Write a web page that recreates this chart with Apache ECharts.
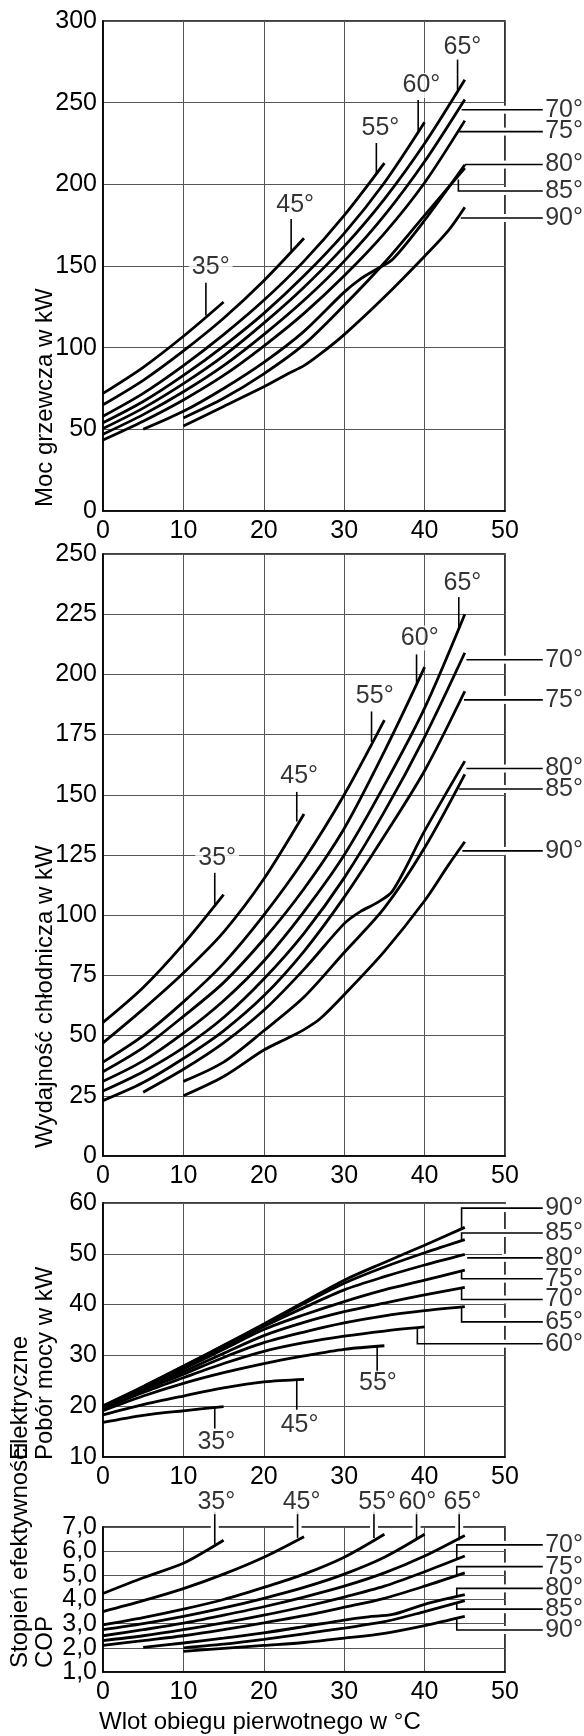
<!DOCTYPE html>
<html><head><meta charset="utf-8">
<script src="https://cdn.jsdelivr.net/npm/echarts@6/dist/echarts.min.js"></script>
<style>html,body{margin:0;padding:0;background:#fff}#c{width:584px;height:1736px}</style>
</head><body><div id="c"></div>
<script>
// ---------- DATA ----------
const tempLabels = ['35°','45°','55°','60°','65°','70°','75°','80°','85°','90°'];

// Chart 1: Moc grzewcza w kW
const heat35 = [[0,72],[5,88],[10,107],[15,128]];
const heat45 = [[0,65],[5,80],[10,98],[15,118],[20,141],[25,167]];
const heat55 = [[0,58],[5,72],[10,89],[15,108],[20,129],[25,153],[30,181],[35,213]];
const heat60 = [[0,54],[5,67],[10,83],[15,101],[20,121],[25,144],[30,170],[35,201],[40,238]];
const heat65 = [[0,50.5],[5,63],[10,78],[15,95],[20,115],[25,137],[30,162],[35,191],[40,225],[45,264]];
const heat70 = [[0,47],[5,59],[10,73],[15,89],[20,108],[25,129],[30,153],[35,181],[40,214],[45,252]];
const heat75 = [[0,43.5],[5,55],[10,68],[15,83],[20,101],[25,121],[30,144],[35,170],[40,201],[45,239]];
const heat80 = [[5,50],[10,61],[15,75],[20,91],[25,110],[30,134],[32,142],[34,148],[36,154],[40,178],[45,212]];
const heat85 = [[10,57],[15,69],[20,84],[25,102],[30,126],[35,152],[40,181],[45,210]];
const heat90 = [[10,52],[15,64],[20,76],[23,84],[25,89],[27,96],[30,108],[35,131],[40,156],[43,172],[45,186]];

// Chart 2: Wydajność chłodnicza w kW
const cool35 = [[0,55.5],[5,70],[10,88],[15,108.5]];
const cool45 = [[0,47],[5,61],[10,76],[15,93],[20,115],[25,142]];
const cool55 = [[0,39],[5,50],[10,64],[15,80],[20,100],[25,123],[30,150],[35,181]];
const cool60 = [[0,35],[5,45],[10,58],[15,72],[20,90],[25,111],[30,136],[35,168],[40,203]];
const cool65 = [[0,31],[5,39.5],[10,51],[15,64.5],[20,81],[25,101.5],[30,125],[35,154],[40,186],[45,225]];
const cool70 = [[0,27],[5,35],[10,45],[15,57.5],[20,73.5],[25,92.5],[30,115.5],[35,143],[40,174],[45,209]];
const cool75 = [[0,23],[5,30.5],[10,40.5],[15,52],[20,66.5],[25,85],[30,107.5],[35,133],[40,160],[45,193]];
const cool80 = [[5,26.5],[10,36],[15,47],[20,60.5],[25,77.5],[30,96.5],[32,101.5],[34,105],[36,110],[40,135],[45,164]];
const cool85 = [[10,31],[15,39],[20,52],[25,66],[30,84.5],[35,103],[40,128],[45,158.5]];
const cool90 = [[10,25],[15,33],[20,44],[23,49],[25,52.5],[27,57],[30,67],[35,85],[40,106],[43,121],[45,130.5]];

// Chart 3: Elektryczne pobór mocy w kW
const pow35 = [[0,16.8],[5,18.2],[10,19.1],[15,19.9]];
const pow45 = [[0,18.3],[5,20.3],[10,22],[15,23.6],[20,24.8],[25,25.3]];
const pow55 = [[0,19.1],[5,22],[10,24.5],[15,26.6],[20,28.4],[25,29.9],[30,31.2],[35,31.9]];
const pow60 = [[0,19.4],[5,22.7],[10,25.6],[15,28.4],[20,30.8],[25,32.5],[30,33.8],[35,34.8],[40,35.6]];
const pow65 = [[0,19.6],[5,23.1],[10,26.3],[15,29.6],[20,32.5],[25,34.6],[30,36.4],[35,37.8],[40,38.8],[45,39.6]];
const pow70 = [[0,19.7],[5,23.3],[10,26.8],[15,30.4],[20,33.9],[25,36.5],[30,38.6],[35,40.3],[40,41.9],[45,43.4]];
const pow75 = [[0,19.8],[5,23.5],[10,27.3],[15,31.2],[20,35.1],[25,38],[30,40.6],[35,42.9],[40,44.8],[45,46.8]];
const pow80 = [[0,19.9],[5,23.7],[10,27.6],[15,31.6],[20,35.7],[25,39.4],[30,42.9],[35,45.5],[40,47.8],[45,49.9]];
const pow85 = [[0,20],[5,23.8],[10,27.8],[15,31.9],[20,36],[25,40.2],[30,44.2],[35,47.4],[40,50.2],[45,52.8]];
const pow90 = [[0,20.1],[5,23.9],[10,27.9],[15,32],[20,36.2],[25,40.5],[30,44.8],[35,48.3],[40,51.7],[45,55.2]];

// Chart 4: COP
const cop35 = [[0,4.25],[5,4.9],[10,5.5],[13,6.05],[15,6.45]];
const cop45 = [[0,3.5],[5,3.95],[10,4.45],[15,5.05],[20,5.75],[25,6.6]];
const cop55 = [[0,2.95],[5,3.25],[10,3.6],[15,4.0],[20,4.5],[25,5.05],[30,5.75],[35,6.7]];
const cop60 = [[0,2.75],[5,3.0],[10,3.3],[15,3.65],[20,4.05],[25,4.5],[30,5.05],[35,5.75],[40,6.7]];
const cop65 = [[0,2.5],[5,2.75],[10,3.02],[15,3.35],[20,3.7],[25,4.1],[30,4.55],[35,5.1],[40,5.8],[45,6.65]];
const cop70 = [[0,2.3],[5,2.5],[10,2.75],[15,3.03],[20,3.35],[25,3.7],[30,4.1],[35,4.55],[40,5.15],[45,5.8]];
const cop75 = [[0,2.1],[5,2.3],[10,2.5],[15,2.75],[20,3.03],[25,3.33],[30,3.68],[35,4.05],[40,4.55],[45,5.1]];
const cop80 = [[5,2.02],[10,2.2],[15,2.4],[20,2.62],[25,2.88],[30,3.15],[33,3.28],[36,3.38],[40,3.8],[45,4.2]];
const cop85 = [[10,2.0],[15,2.15],[20,2.35],[25,2.58],[30,2.82],[35,3.08],[40,3.5],[45,3.95]];
const cop90 = [[10,1.85],[15,1.98],[20,2.1],[25,2.22],[30,2.4],[35,2.6],[40,2.92],[45,3.3]];

// Curve labels: [text, x, y, align] in data units
const heatLabels = [['65°',44.7,284,'center'],['60°',39.6,260.5,'center'],['55°',34.5,234.5,'center'],['45°',23.9,187,'center'],['35°',13.4,149.5,'center'],
  ['70°',55.0,245.7,'left'],['75°',55.0,232.3,'left'],['80°',55.0,212.1,'left'],['85°',55.0,195.9,'left'],['90°',55.0,179.4,'left']];
const heatLeaders = [[[44.1,277],[44.1,257.6]],[[39.2,251.7],[39.2,231.6]],[[34.0,225.3],[34.0,206.3]],[[23.4,178.8],[23.4,158.8]],[[12.8,139.7],[12.8,119.7]],
  [[54.7,245.7],[44.6,245.7]],[[54.7,232.3],[44.3,232.3]],[[54.7,212.1],[45,212.1]],[[54.7,195.9],[44.2,195.9],[44.2,203]],[[54.7,179.4],[44.5,179.4]]];

const coolLabels = [['65°',44.7,238.1,'center'],['60°',39.4,215.1,'center'],['55°',33.8,190.9,'center'],['45°',24.4,157.8,'center'],['35°',14.2,123.9,'center'],
  ['70°',55.0,206.1,'left'],['75°',55.0,189.4,'left'],['80°',55.0,160.9,'left'],['85°',55.0,152.4,'left'],['90°',55.0,126.7,'left']];
const coolLeaders = [[[44.25,232.1],[44.25,219.3]],[[39.0,208.3],[39.0,196.5]],[[33.4,184.6],[33.4,171.9]],[[24.1,151.2],[24.1,138.9]],[[13.9,117.6],[13.9,104.1]],
  [[54.7,206.1],[45.2,206.1]],[[54.7,189.4],[44.9,189.4]],[[54.7,160.9],[45.2,160.9]],[[54.7,152.4],[44.3,152.4]],[[54.7,126.7],[44.7,126.7]]];

const powLabels = [['90°',55.0,59.0,'left'],['85°',55.0,54.1,'left'],['80°',55.0,49.2,'left'],['75°',55.0,45.1,'left'],['70°',55.0,41,'left'],['65°',55.0,36.6,'left'],['60°',55.0,32.3,'left'],
  ['35°',14.1,13.0,'center'],['45°',24.45,16.3,'center'],['55°',34.2,24.5,'center']];
const powLeaders = [[[54.7,59],[44.6,59],[44.6,54.8]],[[54.7,54.1],[44.6,54.1],[44.6,52.6]],[[54.7,49.2],[45.3,49.2]],[[54.7,45.1],[44.6,45.1],[44.6,46.6]],
  [[54.7,41],[44.6,41],[44.6,43.2]],[[54.7,36.6],[44.6,36.6],[44.6,39.5]],[[54.7,32.3],[39.1,32.3],[39.1,35.5]],
  [[13.9,19.7],[13.9,15.6]],[[24.1,25.2],[24.1,19.3]],[[34.1,31.8],[34.1,26.8]]];

const copLabels = [['35°',14.1,8.05,'center'],['45°',24.7,8.05,'center'],['55°',34.1,8.05,'center'],['60°',39.1,8.05,'center'],['65°',44.7,8.05,'center'],
  ['70°',55.0,6.26,'left'],['75°',55.0,5.36,'left'],['80°',55.0,4.46,'left'],['85°',55.0,3.6,'left'],['90°',55.0,2.74,'left']];
const copLeaders = [[[13.9,7.63],[13.9,6.3]],[[24.2,7.63],[24.2,6.55]],[[33.7,7.63],[33.7,6.55]],[[39.0,7.63],[39.0,6.5]],[[44.3,7.63],[44.3,6.45]],
  [[54.7,6.26],[44.0,6.26],[44.0,5.7]],[[54.7,5.36],[44.0,5.36],[44.0,5.0]],[[54.7,4.46],[44.0,4.46],[44.0,4.13]],[[54.7,3.6],[44.0,3.6],[44.0,3.87]],[[54.7,2.74],[44.0,2.74],[44.0,3.24]]];

// ---------- CHART ----------
const FONT = '"Liberation Sans", Arial, Helvetica, sans-serif';
const FS = 25;
const grids = [
  {left:103, top:21, width:402, height:490},
  {left:103, top:554, width:402, height:602},
  {left:103, top:1203, width:402, height:254},
  {left:103, top:1527, width:402, height:145}
];
const copFmt = v=>v.toFixed(1).replace('.',',');
const yCfg = [
  {min:0,max:300,interval:50,fmt:v=>String(v)},
  {min:0,max:250,interval:25,fmt:v=>String(v)},
  {min:10,max:60,interval:10,fmt:v=>String(v)},
  // COP ticks are dense: odd values here, even values on a companion label-only axis
  {min:1,max:7,interval:1,fmt:v=>(Math.round(v)%2===1 ? copFmt(v) : '')}
];
const curveSets = [
  [heat35,heat45,heat55,heat60,heat65,heat70,heat75,heat80,heat85,heat90],
  [cool35,cool45,cool55,cool60,cool65,cool70,cool75,cool80,cool85,cool90],
  [pow35,pow45,pow55,pow60,pow65,pow70,pow75,pow80,pow85,pow90],
  [cop35,cop45,cop55,cop60,cop65,cop70,cop75,cop80,cop85,cop90]
];
const labelSets = [heatLabels,coolLabels,powLabels,copLabels];
const leaderSets = [heatLeaders,coolLeaders,powLeaders,copLeaders];

const series = [];
curveSets.forEach((set,gi)=>{
  set.forEach((d,ci)=>{
    series.push({type:'line', name:tempLabels[ci]+'_'+gi, xAxisIndex:gi, yAxisIndex:gi, data:d, smooth:0.3,
      showSymbol:false, symbol:'none', lineStyle:{color:'#000', width:2.8}, z:3, silent:true});
  });
  series.push({type:'scatter', xAxisIndex:gi, yAxisIndex:gi, symbolSize:0, clip:false, z:70, silent:true,
    data: labelSets[gi].map(l=>({name:l[0], value:[l[1],l[2]],
      label: l[3]==='left' ? {align:'left', padding:0, backgroundColor:'transparent'} : {align:'center'}})),
    label:{show:true, position:'inside', formatter:'{b}', color:'#000', fontSize:FS, fontFamily:FONT,
      verticalAlign:'middle', backgroundColor:'#fff', padding:[0,3,0,3]}});
});

function txt(x,y,t,rot){
  return {type:'text', x:x, y:y, rotation:rot?Math.PI/2:0, z:80,
    style:{text:t, fontSize:24, fontFamily:FONT, fill:'#000', align:'left', verticalAlign:'middle'}};
}

const yAxes = yCfg.map((c,i)=>({type:'value', gridIndex:i, min:c.min, max:c.max, interval:c.interval,
    axisLine:{show:true, lineStyle:{color:'#000', width:1.6}}, axisTick:{show:false},
    axisLabel:{color:'#000', fontSize:FS, fontFamily:FONT, margin:6, formatter:c.fmt, showMaxLabel:true, showMinLabel:true},
    splitLine:{show:true, lineStyle:{color:'#555', width:1}}}));
yAxes.push({type:'value', gridIndex:3, min:1, max:7, interval:1, position:'left',
    axisLine:{show:false}, axisTick:{show:false}, splitLine:{show:false},
    axisLabel:{color:'#000', fontSize:FS, fontFamily:FONT, margin:6,
      formatter:v=>(Math.round(v)%2===0 ? copFmt(v) : ''), showMaxLabel:true, showMinLabel:true}});

const option = {
  animation:false,
  backgroundColor:'#fff',
  grid: grids.map(g=>Object.assign({show:true, borderColor:'#000', borderWidth:1.6, containLabel:false}, g)),
  xAxis: grids.map((g,i)=>({type:'value', gridIndex:i, min:0, max:50, interval:10,
    axisLine:{show:true, lineStyle:{color:'#000', width:1.6}}, axisTick:{show:false},
    axisLabel:{color:'#000', fontSize:FS, fontFamily:FONT, margin:8, showMaxLabel:true, showMinLabel:true},
    splitLine:{show:true, lineStyle:{color:'#555', width:1}}})),
  yAxis: yAxes,
  series: series
};
const chart = echarts.init(document.getElementById('c'), null, {renderer:'canvas'});
chart.setOption(option);

// Leader lines & frame gaps placed through the library's own coordinate conversion
const gfx = [
  txt(45,507,'Moc grzewcza w kW',true),
  txt(45,1148,'Wydajność chłodnicza w kW',true),
  txt(20,1460,'Elektryczne',true),
  txt(45,1460,'Pobór mocy w kW',true),
  txt(20,1668,'Stopień efektywności',true),
  txt(45,1668,'COP',true),
  txt(99,1722,'Wlot obiegu pierwotnego w °C',false)
];
leaderSets.forEach((set,gi)=>{
  const yr = yCfg[gi];
  set.forEach(L=>{
    const pts = L.map(p=>chart.convertToPixel({gridIndex:gi}, p));
    for(let k=0;k<L.length-1;k++){
      const a=L[k], b=L[k+1];
      if(a[1]===b[1] && Math.min(a[0],b[0])<50 && Math.max(a[0],b[0])>50){
        const p = chart.convertToPixel({gridIndex:gi},[50,a[1]]);
        gfx.push({type:'rect', z:50, shape:{x:p[0]-3, y:p[1]-4, width:6, height:8}, style:{fill:'#fff'}});
      }
      if(a[0]===b[0] && Math.min(a[1],b[1])<yr.max && Math.max(a[1],b[1])>yr.max){
        const p = chart.convertToPixel({gridIndex:gi},[a[0],yr.max]);
        gfx.push({type:'rect', z:50, shape:{x:p[0]-4, y:p[1]-3, width:8, height:6}, style:{fill:'#fff'}});
      }
    }
    gfx.push({type:'polyline', z:60, shape:{points:pts}, style:{stroke:'#000', lineWidth:1.6, fill:null}});
  });
});
chart.setOption({graphic: gfx});
</script></body></html>
